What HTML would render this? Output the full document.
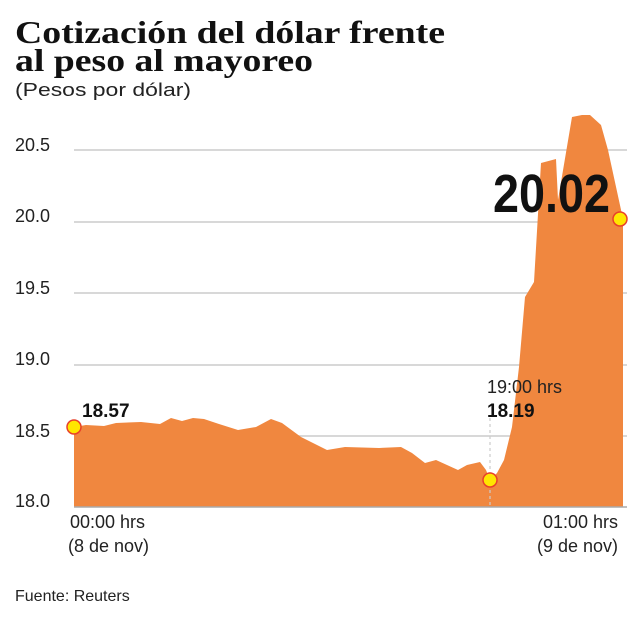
<!DOCTYPE html>
<html><head><meta charset="utf-8"><style>
html,body{margin:0;padding:0;background:#fff;}
svg{display:block;}
</style></head><body>
<svg width="636" height="620" viewBox="0 0 636 620" xmlns="http://www.w3.org/2000/svg">
<g font-family="Liberation Serif, serif" font-weight="bold" fill="#111">
<text x="15" y="43" font-size="32" textLength="430" lengthAdjust="spacingAndGlyphs">Cotización del dólar frente</text>
<text x="15" y="71" font-size="32" textLength="298" lengthAdjust="spacingAndGlyphs">al peso al mayoreo</text>
</g>
<g stroke="#cccccc" stroke-width="1.5">
<line x1="74" y1="150" x2="627" y2="150"/>
<line x1="74" y1="222" x2="627" y2="222"/>
<line x1="74" y1="293" x2="627" y2="293"/>
<line x1="74" y1="365" x2="627" y2="365"/>
<line x1="74" y1="436" x2="627" y2="436"/>
</g>
<polygon fill="#f0873f" points="74,507 74,427 86,425 104,426 116,423 141,422 160,424 171,418 182,421 193,418 204,419 219,424 238,430 256,427 271,419 282,423 301,437 327,450 345,447 379,448 401,447 412,453 425,463 436,460 447,465 458,470 467,465 480,462 486,470 490,480 497,473 504,460 512,427 519,367 525,297 534,282 541,163 556,159 558,200 572,117 582,115 590,115 601,125 608,150 623,219 623,507"/>
<line x1="74" y1="507" x2="627" y2="507" stroke="#aaa" stroke-width="1.5"/>
<line x1="490" y1="418" x2="490" y2="507" stroke="#ccc" stroke-width="1.2" stroke-dasharray="3,3"/>
<g fill="#ffe600" stroke="#e8402a" stroke-width="1.5">
<circle cx="74" cy="427" r="7"/>
<circle cx="490" cy="480" r="7"/>
<circle cx="620" cy="219" r="7"/>
</g>
<g font-family="Liberation Sans, sans-serif" fill="#222" font-size="18">
<text x="15" y="96" textLength="176" lengthAdjust="spacingAndGlyphs">(Pesos por dólar)</text>
<text x="15" y="151">20.5</text>
<text x="15" y="222">20.0</text>
<text x="15" y="294">19.5</text>
<text x="15" y="365">19.0</text>
<text x="15" y="437">18.5</text>
<text x="15" y="507">18.0</text>
<text x="70" y="528">00:00 hrs</text>
<text x="68" y="552">(8 de nov)</text>
<text x="618" y="528" text-anchor="end">01:00 hrs</text>
<text x="618" y="552" text-anchor="end">(9 de nov)</text>
<text x="487" y="393">19:00 hrs</text>
<text x="15" y="601" font-size="16">Fuente: Reuters</text>
</g>
<g font-family="Liberation Sans, sans-serif" font-weight="bold" fill="#111">
<text x="82" y="417" font-size="19">18.57</text>
<text x="487" y="417" font-size="19">18.19</text>
<text x="493" y="212" font-size="54" textLength="117" lengthAdjust="spacingAndGlyphs">20.02</text>
</g>
</svg>
</body></html>
